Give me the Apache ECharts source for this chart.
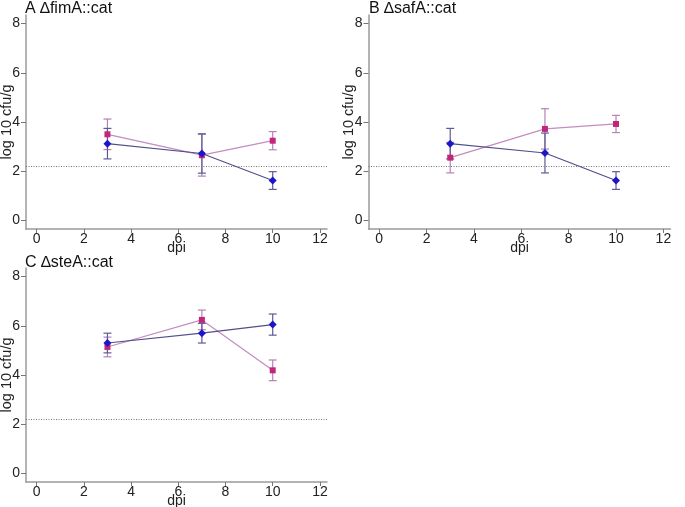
<!DOCTYPE html>
<html><head><meta charset="utf-8">
<script src="https://cdn.jsdelivr.net/npm/echarts@6/dist/echarts.min.js"></script>
<style>html,body{margin:0;padding:0;background:#fff}#c{width:685px;height:507px}</style>
</head><body><div id="c"></div>
<script>
// Data
const days = [3, 7, 10];
const panelTitles = ['A \u2206fimA::cat', 'B \u2206safA::cat', 'C \u2206steA::cat'];
// blue (diamond) series: mean and error
const blueA = [3.12, 2.72, 1.62];
const blueAErr = [0.62, 0.80, 0.36];
const pinkA = [3.50, 2.65, 3.24];
const pinkAErr = [0.62, 0.85, 0.37];
const blueB = [3.12, 2.74, 1.62];
const blueBErr = [0.62, 0.81, 0.36];
const pinkB = [2.55, 3.72, 3.92];
const pinkBErr = [0.62, 0.82, 0.35];
const blueC = [5.30, 5.70, 6.05];
const blueCErr = [0.40, 0.40, 0.43];
const pinkC = [5.14, 6.24, 4.19];
const pinkCErr = [0.40, 0.40, 0.42];
const detectionLimit = 2.2;
const yTicks = [0, 2, 4, 6, 8];
const xTicks = [0, 2, 4, 6, 8, 10, 12];

const blueData = [blueA, blueB, blueC];
const blueErrs = [blueAErr, blueBErr, blueCErr];
const pinkData = [pinkA, pinkB, pinkC];
const pinkErrs = [pinkAErr, pinkBErr, pinkCErr];

const grids = [
  {left: 26, top: 15, width: 301, height: 214},
  {left: 368.5, top: 15, width: 302, height: 214},
  {left: 26, top: 268, width: 301, height: 214}
];
const titlePos = [{left: 20, top: -4.5}, {left: 364, top: -4.5}, {left: 20, top: 250}];

const FONT = 'Liberation Sans, Arial, sans-serif';
const option = {
  animation: false,
  title: panelTitles.map((t, i) => ({
    text: t, left: titlePos[i].left, top: titlePos[i].top,
    textStyle: {fontFamily: FONT, fontSize: 16, fontWeight: 'normal', color: '#111'}
  })),
  grid: grids.map(g => Object.assign({containLabel: false, outerBoundsMode: 'none'}, g)),
  xAxis: grids.map((g, i) => ({
    gridIndex: i, type: 'value', min: -0.45, max: 12.3,
    name: 'dpi', nameLocation: 'middle', nameGap: 12, nameMoveOverlap: false,
    nameTextStyle: {fontFamily: FONT, fontSize: 14, color: '#222'},
    axisLine: {show: true, onZero: false, lineStyle: {color: '#9a9a9a', width: 1.5}},
    axisTick: {show: true, length: 4, customValues: xTicks, lineStyle: {color: '#777'}},
    axisLabel: {customValues: xTicks, fontFamily: FONT, fontSize: 14, color: '#222', margin: 3},
    splitLine: {show: false}
  })),
  yAxis: grids.map((g, i) => ({
    gridIndex: i, type: 'value', min: -0.35, max: 8.35,
    name: 'log 10 cfu/g', nameLocation: 'middle', nameGap: 12, nameRotate: 90, nameMoveOverlap: false,
    nameTextStyle: {fontFamily: FONT, fontSize: 14.5, color: '#222'},
    axisLine: {show: true, onZero: false, lineStyle: {color: '#9a9a9a', width: 1.5}},
    axisTick: {show: true, length: 5, customValues: yTicks, lineStyle: {color: '#777'}},
    axisLabel: {customValues: yTicks, fontFamily: FONT, fontSize: 14, color: '#222', margin: 6},
    splitLine: {show: false}
  })),
  series: []
};

function errSeries(i, vals, errs, color) {
  return {
    type: 'custom', xAxisIndex: i, yAxisIndex: i, z: 3,
    data: days.map((d, k) => [d, vals[k] - errs[k], vals[k] + errs[k]]),
    renderItem: function (params, api) {
      const lo = api.coord([api.value(0), api.value(1)]);
      const hi = api.coord([api.value(0), api.value(2)]);
      const w = 4;
      const st = {stroke: color, lineWidth: 1.2};
      return {type: 'group', children: [
        {type: 'line', shape: {x1: lo[0], y1: lo[1], x2: hi[0], y2: hi[1]}, style: st},
        {type: 'line', shape: {x1: lo[0] - w, y1: lo[1], x2: lo[0] + w, y2: lo[1]}, style: st},
        {type: 'line', shape: {x1: hi[0] - w, y1: hi[1], x2: hi[0] + w, y2: hi[1]}, style: st}
      ]};
    }
  };
}

for (let i = 0; i < 3; i++) {
  option.series.push(errSeries(i, pinkData[i], pinkErrs[i], '#b482b4'));
  option.series.push(errSeries(i, blueData[i], blueErrs[i], '#5c5c96'));
  option.series.push({
    type: 'line', xAxisIndex: i, yAxisIndex: i, z: 4,
    data: days.map((d, k) => [d, pinkData[i][k]]),
    symbol: 'rect', symbolSize: 6,
    itemStyle: {color: '#c2267a'},
    lineStyle: {color: '#c48cc0', width: 1.2},
    markLine: {
      silent: true, symbol: 'none', label: {show: false},
      lineStyle: {color: '#777', type: [1, 1.5], width: 1},
      data: [{yAxis: detectionLimit}]
    }
  });
  option.series.push({
    type: 'line', xAxisIndex: i, yAxisIndex: i, z: 5,
    data: days.map((d, k) => [d, blueData[i][k]]),
    symbol: 'diamond', symbolSize: 8,
    itemStyle: {color: '#1c16c8'},
    lineStyle: {color: '#50508c', width: 1.2}
  });
}

const chart = echarts.init(document.getElementById('c'), null, {renderer: 'canvas'});
chart.setOption(option);
</script></body></html>
